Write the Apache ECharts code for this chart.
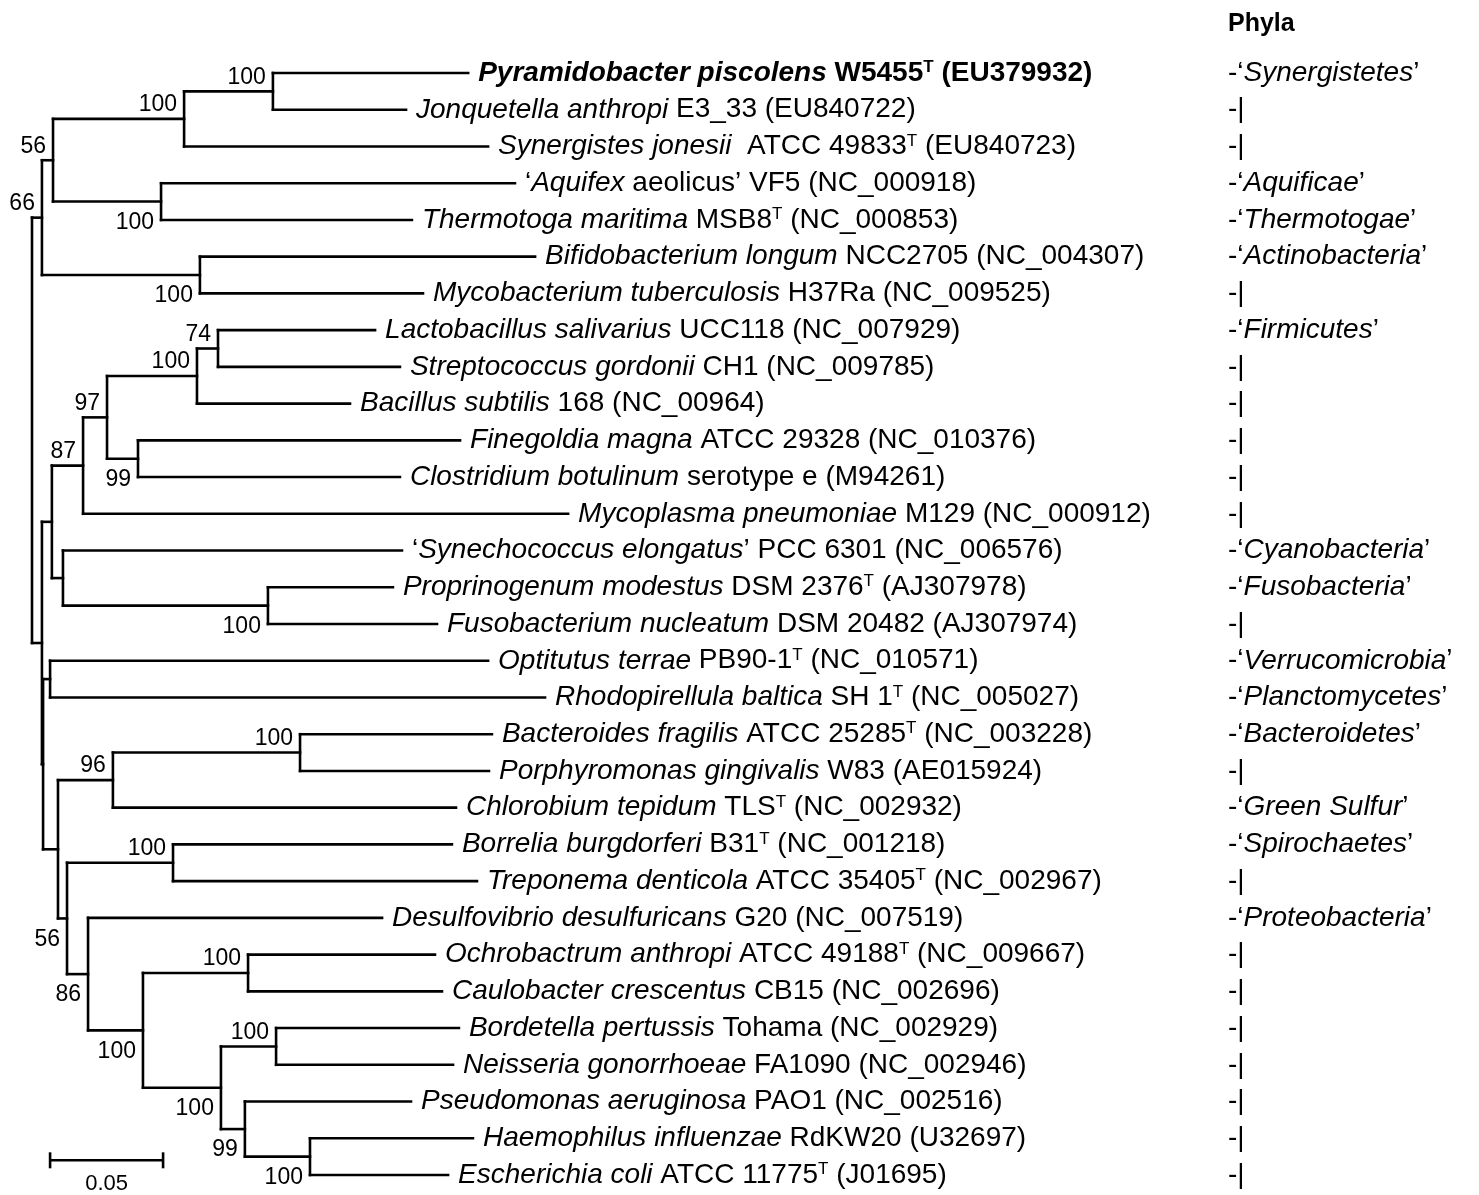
<!DOCTYPE html>
<html>
<head>
<meta charset="utf-8">
<script src="https://cdn.jsdelivr.net/npm/echarts@6/dist/echarts.min.js"></script>
<style>html,body{margin:0;padding:0;background:#fff}#main{width:1479px;height:1195px}</style>
</head>
<body>
<div id="main"></div>
<script>
// leaf labels (rich text), in tree order top to bottom
var leafLabels = [
  '{bi|Pyramidobacter piscolens}{b| W5455}{bsup|T}{b| (EU379932)}',
  '{i|Jonquetella anthropi}{n| E3_33 (EU840722)}',
  '{i|Synergistes jonesii}{n|  ATCC 49833}{sup|T}{n| (EU840723)}',
  '{n|‘}{i|Aquifex}{n| aeolicus’ VF5 (NC_000918)}',
  '{i|Thermotoga maritima}{n| MSB8}{sup|T}{n| (NC_000853)}',
  '{i|Bifidobacterium longum}{n| NCC2705 (NC_004307)}',
  '{i|Mycobacterium tuberculosis}{n| H37Ra (NC_009525)}',
  '{i|Lactobacillus salivarius}{n| UCC118 (NC_007929)}',
  '{i|Streptococcus gordonii}{n| CH1 (NC_009785)}',
  '{i|Bacillus subtilis}{n| 168 (NC_00964)}',
  '{i|Finegoldia magna}{n| ATCC 29328 (NC_010376)}',
  '{i|Clostridium botulinum}{n| serotype e (M94261)}',
  '{i|Mycoplasma pneumoniae}{n| M129 (NC_000912)}',
  '{n|‘}{i|Synechococcus elongatus}{n|’ PCC 6301 (NC_006576)}',
  '{i|Proprinogenum modestus}{n| DSM 2376}{sup|T}{n| (AJ307978)}',
  '{i|Fusobacterium nucleatum}{n| DSM 20482 (AJ307974)}',
  '{i|Optitutus terrae}{n| PB90-1}{sup|T}{n| (NC_010571)}',
  '{i|Rhodopirellula baltica}{n| SH 1}{sup|T}{n| (NC_005027)}',
  '{i|Bacteroides fragilis}{n| ATCC 25285}{sup|T}{n| (NC_003228)}',
  '{i|Porphyromonas gingivalis}{n| W83 (AE015924)}',
  '{i|Chlorobium tepidum}{n| TLS}{sup|T}{n| (NC_002932)}',
  '{i|Borrelia burgdorferi}{n| B31}{sup|T}{n| (NC_001218)}',
  '{i|Treponema denticola}{n| ATCC 35405}{sup|T}{n| (NC_002967)}',
  '{i|Desulfovibrio desulfuricans}{n| G20 (NC_007519)}',
  '{i|Ochrobactrum anthropi}{n| ATCC 49188}{sup|T}{n| (NC_009667)}',
  '{i|Caulobacter crescentus}{n| CB15 (NC_002696)}',
  '{i|Bordetella pertussis}{n| Tohama (NC_002929)}',
  '{i|Neisseria gonorrhoeae}{n| FA1090 (NC_002946)}',
  '{i|Pseudomonas aeruginosa}{n| PAO1 (NC_002516)}',
  '{i|Haemophilus influenzae}{n| RdKW20 (U32697)}',
  '{i|Escherichia coli}{n| ATCC 11775}{sup|T}{n| (J01695)}'
];
// distance from root to each leaf tip
var leafDist = [0.193, 0.1655, 0.2018, 0.2137, 0.1681, 0.2226, 0.1730, 0.1518, 0.1628, 0.1407,
  0.1894, 0.1628, 0.2372, 0.1637, 0.1597, 0.1792, 0.2018, 0.2270, 0.2035, 0.2022,
  0.1876, 0.1858, 0.1969, 0.1549, 0.1783, 0.1814, 0.1889, 0.1863, 0.1677, 0.1951, 0.1841];
// phylum per leaf ('' = same as above)
var phyla = ['Synergistetes', '', '', 'Aquificae', 'Thermotogae', 'Actinobacteria', '', 'Firmicutes', '', '',
  '', '', '', 'Cyanobacteria', 'Fusobacteria', '', 'Verrucomicrobia', 'Planctomycetes', 'Bacteroidetes', '',
  'Green Sulfur', 'Spirochaetes', '', 'Proteobacteria', '', '', '', '', '', '', ''];

// internal nodes: children are leaf indices (numbers) or node ids (strings)
var nodeIds      = ['pj', 'syn', 'aq', 'n56a', 'bif', 'n66', 'n74', 'n100l', 'n99u', 'n97', 'n87', 'fuso', 'syfu', 'nE',
                    'or', 'n100b', 'n96', 'bor', 'oc', 'bn', 'he', 'n99l', 'n100e', 'n100d', 'n100c', 'n86', 'n56b', 'nG', 'nB', 'root'];
var nodeDist     = [0.1066, 0.0673, 0.0571, 0.0093, 0.0743, 0.0044, 0.0823, 0.0730, 0.0469, 0.0332, 0.0226, 0.1044, 0.0137, 0.0088,
                    0.0080, 0.1186, 0.0358, 0.0624, 0.0956, 0.1080, 0.1230, 0.0942, 0.0836, 0.0491, 0.0248, 0.0155, 0.0115, 0.0049, 0.0044, 0];
var nodeChildren = [[0, 1], ['pj', 2], [3, 4], ['syn', 'aq'], [5, 6], ['n56a', 'bif'], [7, 8], ['n74', 9], [10, 11], ['n100l', 'n99u'],
                    ['n97', 12], [14, 15], [13, 'fuso'], ['n87', 'syfu'], [16, 17], [18, 19], ['n100b', 20], [21, 22], [24, 25], [26, 27],
                    [29, 30], [28, 'he'], ['bn', 'n99l'], ['oc', 'n100e'], [23, 'n100d'], ['bor', 'n100c'], ['n96', 'n86'], ['or', 'n56b'],
                    ['nE', 'nG'], ['n66', 'nB']];
var nodeSupport  = ['100', '100', '100', '56', '100', '66', '74', '100', '99', '97', '87', '100', '', '',
                    '', '100', '96', '100', '100', '100', '100', '99', '100', '100', '86', '56', '', '', '', ''];
var supportBelow = [0, 0, 1, 0, 1, 0, 0, 0, 1, 0, 0, 1, 0, 0,
                    0, 0, 0, 0, 0, 0, 1, 1, 1, 1, 1, 1, 0, 0, 0, 0];
var scaleBar = { start: 0.008, length: 0.05, label: '0.05' };

// ---- layout of the tree in data coordinates ----
var pos = {};
function place(id) {
  if (typeof id === 'number') return (pos['L' + id] = { x: leafDist[id], y: id });
  if (pos[id]) return pos[id];
  var k = nodeIds.indexOf(id);
  var ch = nodeChildren[k].map(place);
  return (pos[id] = { x: nodeDist[k], y: (ch[0].y + ch[ch.length - 1].y) / 2, ch: ch });
}
place('root');

var segs = [];
nodeIds.forEach(function (id) {
  var p = pos[id];
  segs.push([p.x, p.ch[0].y, p.x, p.ch[p.ch.length - 1].y]);
  p.ch.forEach(function (c) { segs.push([p.x, c.y, c.x, c.y]); });
});
var supports = [];
nodeIds.forEach(function (id, k) {
  if (nodeSupport[k]) supports.push([pos[id].x, pos[id].y, nodeSupport[k], supportBelow[k]]);
});
var leaves = leafLabels.map(function (t, i) { return [leafDist[i], i, t, phyla[i]]; });

var FONT = 'Liberation Sans, Arial, sans-serif';
var FS = 28;
var rich = {
  i: { fontStyle: 'italic', fontSize: FS, fontFamily: FONT, fill: '#000' },
  n: { fontSize: FS, fontFamily: FONT, fill: '#000' },
  sup: { fontSize: 17, fontFamily: FONT, fill: '#000', verticalAlign: 'top' },
  bi: { fontStyle: 'italic', fontWeight: 'bold', fontSize: FS, fontFamily: FONT, fill: '#000' },
  b: { fontWeight: 'bold', fontSize: FS, fontFamily: FONT, fill: '#000' },
  bsup: { fontWeight: 'bold', fontSize: 17, fontFamily: FONT, fill: '#000', verticalAlign: 'top' }
};

var chart = echarts.init(document.getElementById('main'));
chart.setOption({
  animation: false,
  grid: { left: 32, right: 317, top: 73, bottom: 20 },
  xAxis: { type: 'value', min: 0, max: 0.5, show: false },
  yAxis: { type: 'value', min: 0, max: 30, inverse: true, show: false },
  graphic: [{ type: 'text', left: 1228, top: 12, style: { text: 'Phyla', font: 'bold 25px ' + FONT, fill: '#000' } }],
  series: [
    {
      type: 'custom', data: segs, silent: true,
      renderItem: function (params, api) {
        var a = api.coord([api.value(0), api.value(1)]);
        var b = api.coord([api.value(2), api.value(3)]);
        return { type: 'line', shape: { x1: a[0], y1: a[1], x2: b[0], y2: b[1] },
                 style: { stroke: '#000', lineWidth: 2.6, lineCap: 'square' } };
      }
    },
    {
      type: 'custom', data: supports, silent: true,
      renderItem: function (params, api) {
        var p = api.coord([api.value(0), api.value(1)]);
        var below = supports[params.dataIndex][3];
        return { type: 'text', style: { text: supports[params.dataIndex][2], x: p[0] - 7, y: p[1] + (below ? 21 : -14),
                 align: 'right', verticalAlign: 'middle', font: '23px ' + FONT, fill: '#000' } };
      }
    },
    {
      type: 'custom', data: leaves, silent: true,
      renderItem: function (params, api) {
        var d = leaves[params.dataIndex];
        var p = api.coord([d[0], d[1]]);
        var ph = d[3] ? '-‘{i|' + d[3] + '}’' : '-|';
        return { type: 'group', children: [
          { type: 'text', style: { text: d[2], rich: rich, x: p[0] + 10, y: p[1], verticalAlign: 'middle', font: FS + 'px ' + FONT } },
          { type: 'text', style: { text: ph, rich: rich, x: 1228, y: p[1], verticalAlign: 'middle', font: FS + 'px ' + FONT, fill: '#000' } }
        ] };
      }
    },
    {
      type: 'custom', data: [[scaleBar.start, scaleBar.length]], silent: true,
      renderItem: function (params, api) {
        var a = api.coord([api.value(0), 29.6]);
        var b = api.coord([api.value(0) + api.value(1), 29.6]);
        return { type: 'group', children: [
          { type: 'line', shape: { x1: a[0], y1: a[1], x2: b[0], y2: b[1] }, style: { stroke: '#000', lineWidth: 2.6 } },
          { type: 'line', shape: { x1: a[0], y1: a[1] - 8, x2: a[0], y2: a[1] + 8 }, style: { stroke: '#000', lineWidth: 2.6 } },
          { type: 'line', shape: { x1: b[0], y1: b[1] - 8, x2: b[0], y2: b[1] + 8 }, style: { stroke: '#000', lineWidth: 2.6 } },
          { type: 'text', style: { text: scaleBar.label, x: (a[0] + b[0]) / 2, y: a[1] + 24, align: 'center',
                                   verticalAlign: 'middle', font: '22px ' + FONT, fill: '#000' } }
        ] };
      }
    }
  ]
});
</script>
</body>
</html>
